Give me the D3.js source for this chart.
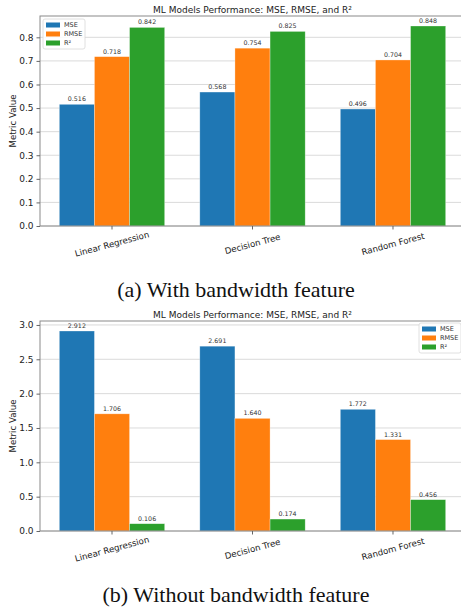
<!DOCTYPE html>
<html>
<head>
<meta charset="utf-8">
<script src="https://cdn.jsdelivr.net/npm/d3@7"></script>
<style>
  body { margin: 0; background: #fff; }
  svg { display: block; }
</style>
</head>
<body>
<svg id="chart" width="461" height="607"></svg>
<script>
// chart values
var models = ["Linear Regression", "Decision Tree", "Random Forest"];
var metrics = ["MSE", "RMSE", "R²"];
var colors = ["#1f77b4", "#ff7f0e", "#2ca02c"];

var mseWith = [0.516, 0.568, 0.496];
var rmseWith = [0.718, 0.754, 0.704];
var r2With = [0.842, 0.825, 0.848];
var ticksWith = [0.0, 0.1, 0.2, 0.3, 0.4, 0.5, 0.6, 0.7, 0.8];

var mseWithout = [2.912, 2.691, 1.772];
var rmseWithout = [1.706, 1.640, 1.331];
var r2Without = [0.106, 0.174, 0.456];
var ticksWithout = [0.0, 0.5, 1.0, 1.5, 2.0, 2.5, 3.0];

var svg = d3.select("#chart");
var font = "'DejaVu Sans', sans-serif";
var barW = 0.25;

function drawPanel(p) {
    var series = p.series;
    var maxV = d3.max(series, function(s) { return d3.max(s); });

    var x = d3.scaleLinear()
        .domain([-0.5125, 2.5125])
        .range([40, 465]);
    var y = d3.scaleLinear()
        .domain([0, maxV * 1.05])
        .range([p.top + 210, p.top]);

    var g = svg.append("g");

    // grid
    g.selectAll("line.grid")
        .data(p.ticks)
        .enter().append("line")
        .attr("class", "grid")
        .attr("x1", x.range()[0]).attr("x2", x.range()[1])
        .attr("y1", function(d) { return y(d); })
        .attr("y2", function(d) { return y(d); })
        .attr("stroke", "#d0d0d0")
        .attr("stroke-width", 0.8);

    // bars
    series.forEach(function(vals, j) {
        var off = (j - 1) * barW;
        g.selectAll("rect.s" + j)
            .data(vals)
            .enter().append("rect")
            .attr("x", function(d, i) { return x(i + off - barW / 2); })
            .attr("width", function() { return x(barW) - x(0); })
            .attr("y", function(d) { return y(d); })
            .attr("height", function(d) { return y(0) - y(d); })
            .attr("fill", colors[j])
            .attr("stroke", "#fff")
            .attr("stroke-opacity", 0.5)
            .attr("stroke-width", 0.6);

        g.selectAll("text.v" + j)
            .data(vals)
            .enter().append("text")
            .attr("x", function(d, i) { return x(i + off); })
            .attr("y", function(d) { return y(d) - 3; })
            .attr("text-anchor", "middle")
            .attr("font-family", font)
            .attr("font-size", 6.3)
            .attr("fill", "#333")
            .text(function(d) { return d.toFixed(3); });
    });

    // frame
    g.append("rect")
        .attr("x", x.range()[0]).attr("y", p.top)
        .attr("width", x.range()[1] - x.range()[0])
        .attr("height", y(0) - p.top)
        .attr("fill", "none")
        .attr("stroke", "#8a8a8a")
        .attr("stroke-width", 1);

    // y axis
    var yAxis = g.append("g")
        .attr("transform", "translate(" + x.range()[0] + ",0)")
        .call(d3.axisLeft(y).tickValues(p.ticks).tickFormat(d3.format(".1f")).tickSize(3.5).tickPadding(3));
    yAxis.select(".domain").remove();
    yAxis.selectAll("line").attr("stroke", "#666");
    yAxis.selectAll("text").attr("font-family", font).attr("font-size", 9).attr("fill", "#222");

    // x ticks
    g.selectAll("line.xt")
        .data(models)
        .enter().append("line")
        .attr("x1", function(d, i) { return x(i); })
        .attr("x2", function(d, i) { return x(i); })
        .attr("y1", y(0)).attr("y2", y(0) + 3.5)
        .attr("stroke", "#666");

    g.selectAll("text.xl")
        .data(models)
        .enter().append("text")
        .attr("transform", function(d, i) {
            return "translate(" + x(i) + "," + (y(0) + 18) + ") rotate(-15)";
        })
        .attr("text-anchor", "middle")
        .attr("dominant-baseline", "central")
        .attr("font-family", font)
        .attr("font-size", 8.6)
        .attr("fill", "#222")
        .text(function(d) { return d; });

    // title & y label
    g.append("text")
        .attr("x", (x.range()[0] + x.range()[1]) / 2)
        .attr("y", p.top - 3.5)
        .attr("text-anchor", "middle")
        .attr("font-family", font)
        .attr("font-size", 9)
        .attr("fill", "#222")
        .text("ML Models Performance: MSE, RMSE, and R²");

    g.append("text")
        .attr("transform", "translate(13," + (p.top + 105) + ") rotate(-90)")
        .attr("text-anchor", "middle")
        .attr("dominant-baseline", "central")
        .attr("font-family", font)
        .attr("font-size", 8.6)
        .attr("fill", "#222")
        .text("Metric Value");

    // legend
    var lg = g.append("g").attr("transform", "translate(" + p.legend[0] + "," + p.legend[1] + ")");
    lg.append("rect")
        .attr("width", 42).attr("height", 30)
        .attr("rx", 2)
        .attr("fill", "#fff").attr("fill-opacity", 0.85)
        .attr("stroke", "#d8d8d8").attr("stroke-width", 0.8);
    metrics.forEach(function(m, j) {
        lg.append("rect")
            .attr("x", 3).attr("y", 3.5 + j * 9)
            .attr("width", 14).attr("height", 5)
            .attr("fill", colors[j]);
        lg.append("text")
            .attr("x", 21).attr("y", 6 + j * 9)
            .attr("dominant-baseline", "central")
            .attr("font-family", font)
            .attr("font-size", 6.5)
            .attr("fill", "#333")
            .text(m);
    });

    // caption
    svg.append("text")
        .attr("x", 236)
        .attr("y", p.caption)
        .attr("text-anchor", "middle")
        .attr("font-family", "'Liberation Serif', 'Times New Roman', serif")
        .attr("font-size", 22)
        .attr("fill", "#111")
        .text(p.label);
}

drawPanel({
    series: [mseWith, rmseWith, r2With],
    ticks: ticksWith,
    top: 16,
    legend: [43, 19],
    caption: 297,
    label: "(a) With bandwidth feature"
});

drawPanel({
    series: [mseWithout, rmseWithout, r2Without],
    ticks: ticksWithout,
    top: 321,
    legend: [419, 323],
    caption: 602,
    label: "(b) Without bandwidth feature"
});
</script>
</body>
</html>
